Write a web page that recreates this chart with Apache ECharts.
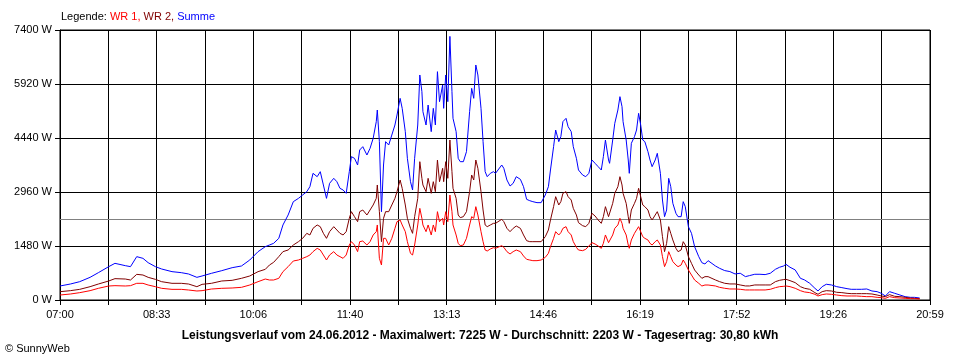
<!DOCTYPE html>
<html>
<head>
<meta charset="utf-8">
<script src="https://cdn.jsdelivr.net/npm/echarts@6/dist/echarts.min.js"></script>
<style>
html,body{margin:0;padding:0;background:#fff;}
#chart{width:960px;height:360px;}
</style>
</head>
<body>
<div id="chart"></div>
<script>
// Minutes after 07:00
const times = [
0,10,19,29,37,47,53,63,68,74,80,85,92,98,108,117,124,132,137,146,156,166,175,183,191,198,
202,206,211,215,220,225,230,234,238,241,244,248,251,254,257,260,264,267,270,273,276,279,281,284,287,289,292,296,299,302,305,306,308,310,312,314,317,320,323,325,328,330,333,335,338,340,342,345,347,349,350,353,355,358,360,362,364,366,369,370,372,374,376,378,379,382,384,386,389,392,395,397,399,401,403,406,408,410,412,415,418,
420,426,428,431,434,437,440,444,447,450,453,456,460,464,468,471,473,476,478,481,483,485,488,490,493,495,498,500,504,507,510,513,516,519,522,524,526,529,530,533,535,538,540,542,543,546,548,549,551,554,556,558,560,562,564,567,569,571,574,576,579,581,583,585,587,589,591,594,596,599,601,603,606,609,612,616,619,622,625,
632,636,641,646,651,656,661,665,670,675,680,685,690,694,698,700,704,709,714,718,723,728,731,735,739,744,749,754,759,763,768,773,778,783,788,792,796,800,805,810,815,820,824,829
];
const wr1 = [
137,164,201,256,320,384,393,384,393,457,457,411,365,320,292,292,274,247,256,301,320,329,347,411,502,575,
548,548,594,777,914,1069,1096,1142,1188,1233,1325,1416,1370,1233,1096,1233,1325,1233,1188,1142,1233,1507,1599,1507,1325,1599,1617,1507,1599,1782,1873,2056,1142,959,1690,1690,1507,1690,1964,2147,2193,2056,1873,1599,1279,1233,1507,2056,2512,2238,2056,1873,2056,1782,2056,1873,2421,2147,2238,2056,2421,2147,2878,2421,2056,1782,1553,1489,1507,1690,2056,2284,2238,2558,2330,1873,1599,1370,1343,1398,1434,
1416,1489,1443,1325,1261,1325,1370,1325,1206,1115,1096,1078,1078,1096,1169,1279,1462,1690,1873,1782,1845,1964,2010,1873,1782,1599,1443,1370,1352,1389,1480,1571,1535,1480,1416,1553,1782,1571,1553,1782,1964,2056,2238,2101,1964,1782,1507,1416,1645,1827,1919,2010,1873,1736,1690,1645,1553,1507,1599,1645,1507,1188,914,1051,1325,1188,1051,959,914,959,1096,1005,822,685,548,457,384,411,411,
385,348,321,302,302,293,275,275,275,275,275,293,339,366,375,385,366,321,256,220,202,156,110,147,165,156,137,119,110,110,110,101,92,92,73,64,46,92,64,55,46,37,37,27
];
const wr2 = [
228,256,292,365,438,521,585,575,548,703,685,621,566,502,457,457,438,365,429,457,521,539,594,658,777,841,
959,1032,1188,1325,1370,1507,1599,1690,1827,1782,1964,2056,2010,1827,1690,1873,2010,1919,1827,1782,1873,2238,2421,2284,2147,2421,2467,2330,2467,2604,2786,3152,2421,1599,2238,2421,2421,2604,2786,2969,3289,3061,2604,2238,1964,1827,2284,2786,3791,3335,3152,2969,3335,2924,3243,2969,3837,3243,3609,3243,3791,3335,4385,3517,3061,2786,2330,2257,2284,2421,2969,3426,3289,3837,3609,2969,2467,2056,2010,2056,2101,
2101,2211,2147,1964,1873,1964,2028,1964,1782,1626,1599,1599,1599,1599,1736,1919,2193,2558,2832,2604,2695,2924,2969,2832,2741,2512,2330,2120,2037,2010,2101,2375,2302,2193,2101,2284,2558,2284,2238,2649,2924,3106,3380,3152,2924,2649,2284,2101,2467,2649,2786,3061,2832,2604,2558,2467,2284,2193,2330,2421,2193,1736,1325,1553,2010,1827,1645,1416,1325,1370,1599,1507,1188,1005,822,685,594,640,640,
550,504,458,440,440,412,385,385,412,412,412,412,504,540,560,568,531,476,366,321,293,202,156,229,256,247,211,202,183,174,174,174,174,165,137,110,92,147,101,92,73,55,46,37
];
const summe = [
384,438,502,621,749,914,1005,941,914,1188,1142,1023,914,850,777,749,713,621,658,731,804,886,932,1096,1325,1462,
1507,1553,1690,2056,2330,2695,2786,2878,2969,3106,3472,3380,3517,3152,2786,3198,3335,3243,3061,3015,2924,3517,3928,3883,3700,4111,4202,3974,4157,4431,4888,5207,4340,2420,3700,4340,4248,4522,4796,5070,5527,5253,4614,3883,3243,3015,3883,4796,6167,5710,5162,4796,5344,4614,5253,4796,6258,5436,5893,5253,6167,5436,7225,5710,4979,4614,3883,3791,3791,4066,5162,5801,5527,6441,6167,5253,4340,3517,3380,3472,3517,
3472,3700,3609,3289,3124,3198,3380,3307,3106,2759,2722,2695,2668,2668,2878,3106,3563,4202,4659,4340,4477,4888,4979,4751,4614,4202,3883,3563,3426,3380,3472,3837,3746,3654,3563,3929,4385,3837,3746,4385,4842,5207,5573,5299,4888,4385,3837,3472,4294,4477,4659,5116,4796,4385,4340,4066,3837,3654,3837,4020,3472,2741,2284,2467,3335,3106,2649,2375,2284,2284,2695,2558,2010,1827,1462,1188,1023,987,1078,
934,870,806,779,714,733,641,669,705,705,696,733,843,898,934,980,898,824,595,550,458,321,247,366,431,412,366,339,311,293,293,293,302,247,229,183,110,229,183,137,92,73,73,55
];
const averageW = 2203;
const xTickLabels = ['07:00','08:33','10:06','11:40','13:13','14:46','16:19','17:52','19:26','20:59'];
const xMax = 839;
const xInterval = xMax / 18;
const yMax = 7400;
const yInterval = 1480;

const FONT = "'Liberation Sans', Arial, sans-serif";
function pairs(arr){ return times.map((t,i)=>[t, arr[i]]); }

const chart = echarts.init(document.getElementById('chart'), null, {renderer:'canvas'});
chart.setOption({
  animation:false,
  backgroundColor:'#fff',
  title:[
    {
      left:61, top:11, padding:0,
      text:'{a|Legende: }{r|WR 1, }{d|WR 2, }{b|Summe}',
      textStyle:{
        fontFamily:FONT, fontSize:11, fontWeight:'normal',
        rich:{
          a:{color:'#000', fontFamily:FONT, fontSize:11},
          r:{color:'#ff0000', fontFamily:FONT, fontSize:11},
          d:{color:'#800000', fontFamily:FONT, fontSize:11},
          b:{color:'#0000ff', fontFamily:FONT, fontSize:11}
        }
      }
    },
    {
      left:'center', top:330, padding:0,
      text:'Leistungsverlauf vom 24.06.2012 - Maximalwert: 7225 W - Durchschnitt: 2203 W - Tagesertrag: 30,80 kWh',
      textStyle:{fontFamily:FONT, fontSize:12, fontWeight:'bold', color:'#000'}
    },
    {
      left:5, top:343, padding:0,
      text:'© SunnyWeb',
      textStyle:{fontFamily:FONT, fontSize:11, fontWeight:'normal', color:'#000'}
    }
  ],
  grid:{left:60, right:30, top:30, bottom:60, show:true, borderColor:'#000', borderWidth:1, outerBoundsMode:'none'},
  xAxis:{
    type:'value', min:0, max:xMax, interval:xInterval,
    axisLine:{show:true, lineStyle:{color:'#000', width:1}},
    axisTick:{show:true, length:5, lineStyle:{color:'#000'}},
    splitLine:{show:true, lineStyle:{color:'#000', width:1}},
    axisLabel:{
      color:'#000', fontFamily:FONT, fontSize:11, margin:9, showMaxLabel:true, showMinLabel:true,
      formatter:function(v){ const i = Math.round(v/xInterval); return (i%2===0) ? (xTickLabels[i/2]||'') : ''; }
    }
  },
  yAxis:{
    type:'value', min:0, max:yMax, interval:yInterval,
    axisLine:{show:true, lineStyle:{color:'#000', width:1}},
    axisTick:{show:true, length:5, lineStyle:{color:'#000'}},
    splitLine:{show:true, lineStyle:{color:'#000', width:1}},
    axisLabel:{color:'#000', fontFamily:FONT, fontSize:11, margin:8, formatter:function(v){ return String(Math.round(v)) + ' W'; }}
  },
  series:[
    {
      name:'Summe', type:'line', data:pairs(summe), showSymbol:false, symbol:'none',
      lineStyle:{color:'#0000ff', width:1}, itemStyle:{color:'#0000ff'}, z:3,
      markLine:{
        silent:true, symbol:['none','none'], label:{show:false},
        lineStyle:{color:'#808080', type:'solid', width:1},
        data:[{yAxis:averageW}], z:2
      }
    },
    {
      name:'WR 2', type:'line', data:pairs(wr2), showSymbol:false, symbol:'none',
      lineStyle:{color:'#800000', width:1}, itemStyle:{color:'#800000'}, z:4
    },
    {
      name:'WR 1', type:'line', data:pairs(wr1), showSymbol:false, symbol:'none',
      lineStyle:{color:'#ff0000', width:1}, itemStyle:{color:'#ff0000'}, z:5
    }
  ]
});
</script>
</body>
</html>
